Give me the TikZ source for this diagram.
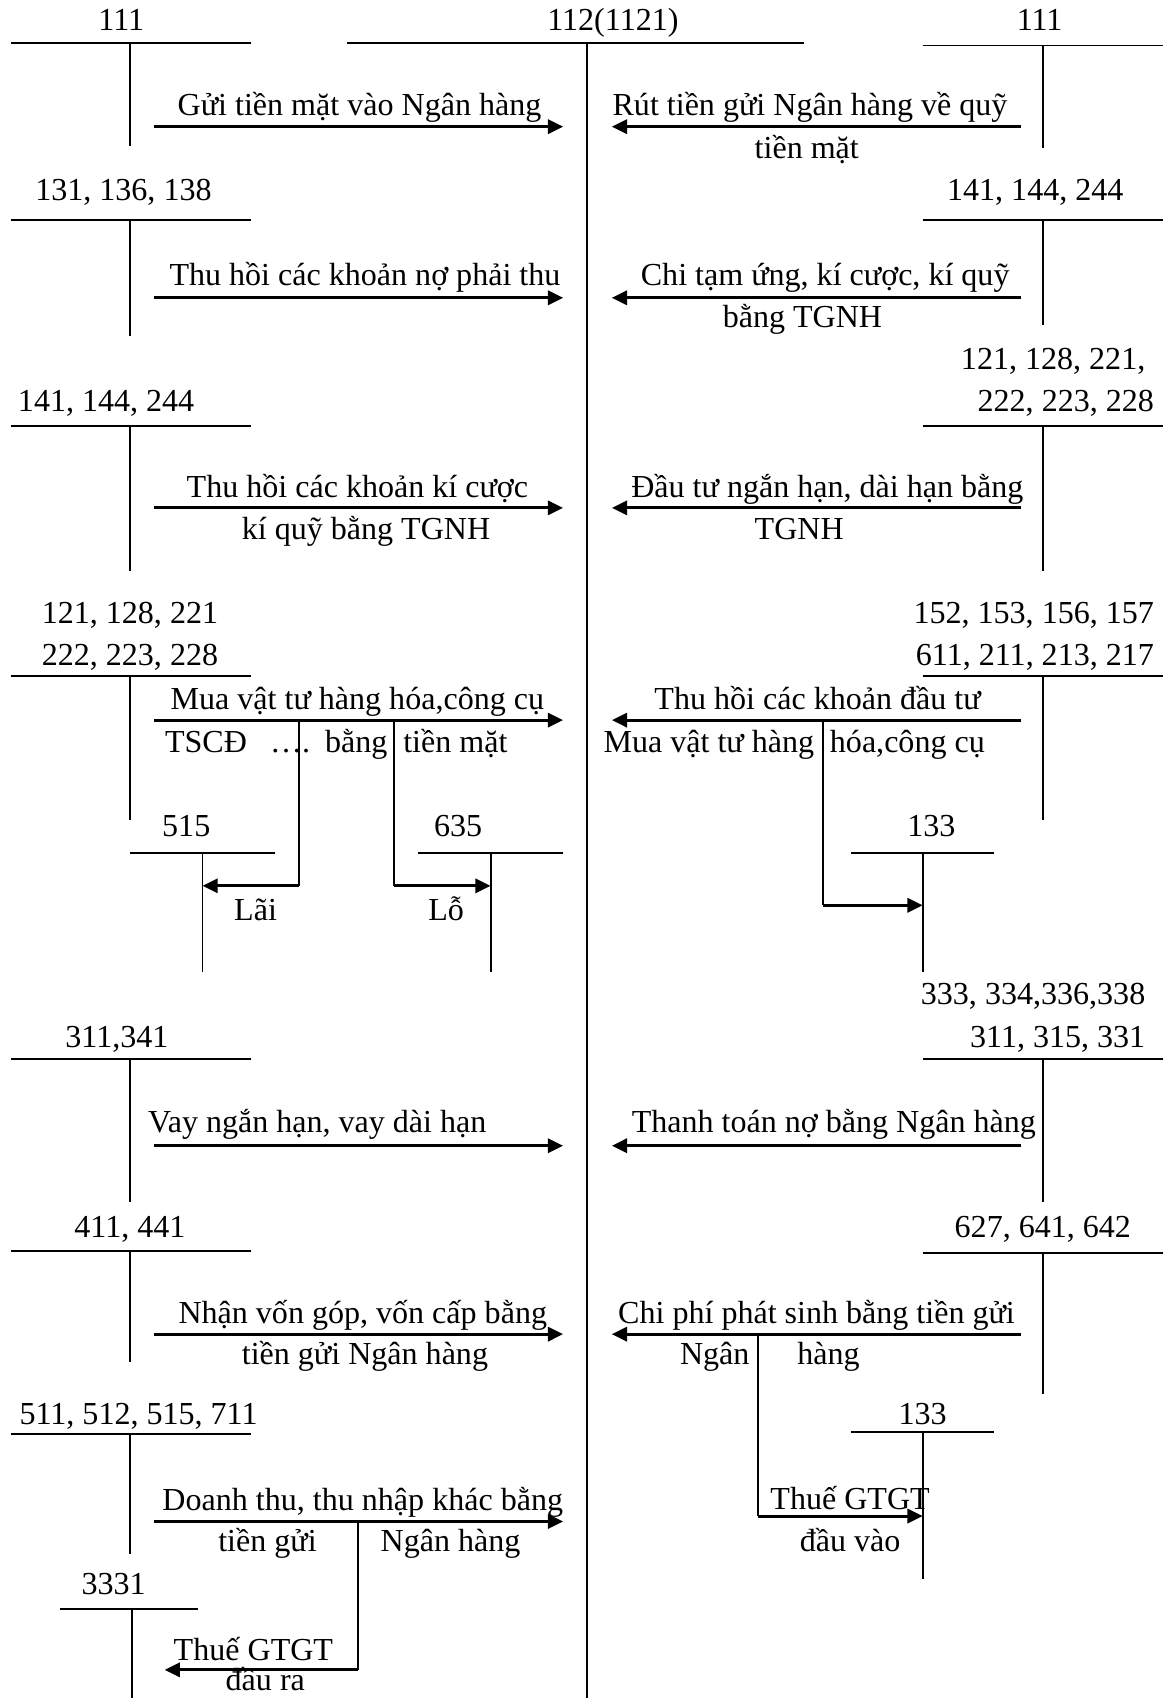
\documentclass[tikz,border=0pt]{standalone}
\usepackage{fontspec}
\setmainfont{Liberation Serif}
\usetikzlibrary{arrows.meta}

\begin{document}
\begin{tikzpicture}[x=0.5pt,y=-0.5pt,
  tk/.style={line width=0.9pt},
  flow/.style={line width=1.4pt,-{Triangle[length=7pt,width=6.5pt]}},
  txt/.style={anchor=base,inner sep=0pt,font=\fontsize{14.8}{17}\selectfont}]
\useasboundingbox (0,0) rectangle (1078,1568);
% T accounts: name/left/right/stem/top/bottom
\foreach \n/\xa/\xb/\sx/\ya/\yb in {%
  La/10/232/120/40/135,Ca/320/742/542/40/1568,Ra/852/1074/963/42/137,%
  Lb/10/232/120/203/310,Rb/852/1074/963/203/300,%
  Lc/10/232/120/393/527,Rc/852/1074/963/393/527,%
  Ld/10/232/120/624/757,Rd/852/1074/963/624/757,%
  Pa/120/254/187/788/898,Pb/386/520/453/788/898,Pc/786/918/852/788/898,%
  Le/10/232/120/978/1110,Re/852/1074/963/978/1110,%
  Lf/10/232/120/1155/1258,Rf/852/1074/963/1157/1287,%
  Pd/786/918/852/1322/1458,Lg/10/232/120/1324/1435,Pe/55/183/122/1486/1568} {
  \coordinate (\n-l) at (\xa,\ya);
  \coordinate (\n-r) at (\xb,\ya);
  \coordinate (\n-t) at (\sx,\ya);
  \coordinate (\n-b) at (\sx,\yb);
  \draw[tk] (\n-l) -- (\n-r);
  \draw[tk] (\n-t) -- (\n-b);
}
% account numbers
\foreach \n/\x/\y/\t in {%
  na/112/28/{111},nc/566/28/{112(1121)},nr/960/28/{111},%
  nb/114/185/{131, 136, 138},ns/956/185/{141, 144, 244},%
  nd/98/380/{141, 144, 244},ne/120/576/{121, 128, 221},nf/120/615/{222, 223, 228},%
  ng/172/772/{515},nh/423/772/{635},ni/860/772/{133},%
  nj/108/967/{311,341},nk/120/1143/{411, 441},nl/963/1143/{627, 641, 642},%
  nm/128/1315/{511, 512, 515, 711},nn/852/1315/{133},no/105/1472/{3331}} {
  \node[txt] (\n) at (\x,\y) {\t};
}
\node[txt,anchor=base east] (nt) at (1058,341) {121, 128, 221,};
\node[txt,anchor=base east] (nu) at (1066,380) {222, 223, 228};
\node[txt,anchor=base east] (nv) at (1066,576) {152, 153, 156, 157};
\node[txt,anchor=base east] (nw) at (1066,615) {611, 211, 213, 217};
\node[txt,anchor=base east] (nx) at (1058,928) {333, 334,336,338};
\node[txt,anchor=base east] (ny) at (1058,967) {311, 315, 331};
% flows into and out of 112
\foreach \i/\y in {1/117,2/275,3/469,4/665,5/1058,6/1232,7/1405} {
  \coordinate (in\i) at (142,\y);
  \coordinate (to\i) at (520,\y);
  \draw[flow] (in\i) -- (to\i);
}
\foreach \i/\y in {1/117,2/275,3/469,4/665,5/1058,6/1232} {
  \coordinate (out\i) at (943,\y);
  \coordinate (back\i) at (565,\y);
  \draw[flow] (out\i) -- (back\i);
}
\node[txt] (ta) at (332,107) {Gửi tiền mặt vào Ngân hàng};
\node[txt] (tb) at (748,107) {Rút tiền gửi Ngân hàng về quỹ};
\node[txt] (tc) at (745,146) {tiền mặt};
\node[txt] (td) at (337,264) {Thu hồi các khoản nợ phải thu};
\node[txt] (te) at (762,264) {Chi tạm ứng, kí cược, kí quỹ};
\node[txt] (tf) at (741,302) {bằng TGNH};
\node[txt] (tg) at (330,459) {Thu hồi các khoản kí cược};
\node[txt] (th) at (338,498) {kí quỹ bằng TGNH};
\node[txt] (ti) at (764,459) {Đầu tư ngắn hạn, dài hạn bằng};
\node[txt] (tj) at (738,498) {TGNH};
\node[txt] (tk) at (330,655) {Mua vật tư hàng hóa,công cụ};
\node[txt,anchor=base west] (tl) at (152,695) {TSCĐ};
\node[txt] (tm) at (268,695) {….};
\node[txt] (tn) at (329,695) {bằng};
\node[txt,anchor=base west] (to) at (372,695) {tiền mặt};
\node[txt] (tp) at (236,850) {Lãi};
\node[txt] (tq) at (412,850) {Lỗ};
\node[txt] (tr) at (755,655) {Thu hồi các khoản đầu tư};
\node[txt,anchor=base west] (ts) at (557,695) {Mua vật tư hàng};
\node[txt,anchor=base west] (tt) at (766,695) {hóa,công cụ};
\node[txt] (tu) at (293,1046) {Vay ngắn hạn, vay dài hạn};
\node[txt] (tv) at (770,1046) {Thanh toán nợ bằng Ngân hàng};
\node[txt] (tw) at (335,1222) {Nhận vốn góp, vốn cấp bằng};
\node[txt] (tx) at (337,1260) {tiền gửi Ngân hàng};
\node[txt] (ty) at (754,1222) {Chi phí phát sinh bằng tiền gửi};
\node[txt] (tz) at (660,1260) {Ngân};
\node[txt] (ua) at (765,1260) {hàng};
\node[txt] (ub) at (785,1394) {Thuế GTGT};
\node[txt] (uc) at (785,1433) {đầu vào};
\node[txt] (ud) at (335,1395) {Doanh thu, thu nhập khác bằng};
\node[txt] (ue) at (247,1433) {tiền gửi};
\node[txt] (uf) at (416,1433) {Ngân hàng};
\node[txt] (ug) at (234,1533) {Thuế GTGT};
\node[txt] (uh) at (245,1561) {đầu ra};
% split flows
\coordinate (sa) at (276,665); \coordinate (sa') at (276,818);
\coordinate (sb) at (364,665); \coordinate (sb') at (364,818);
\coordinate (sc) at (760,665); \coordinate (sc') at (760,836);
\coordinate (sd) at (700,1232); \coordinate (sd') at (700,1400);
\coordinate (se) at (331,1405); \coordinate (se') at (331,1542);
\coordinate (sf) at (152,1542);
\draw[tk] (sa) -- (sa'); \draw[flow] (sa') -- (Pa-b |- sa');
\draw[tk] (sb) -- (sb'); \draw[flow] (sb') -- (Pb-b |- sb');
\draw[tk] (sc) -- (sc'); \draw[flow] (sc') -- (Pc-b |- sc');
\draw[tk] (sd) -- (sd'); \draw[flow] (sd') -- (Pd-b |- sd');
\draw[tk] (se) -- (se'); \draw[flow] (se') -- (sf);
\end{tikzpicture}
\end{document}
